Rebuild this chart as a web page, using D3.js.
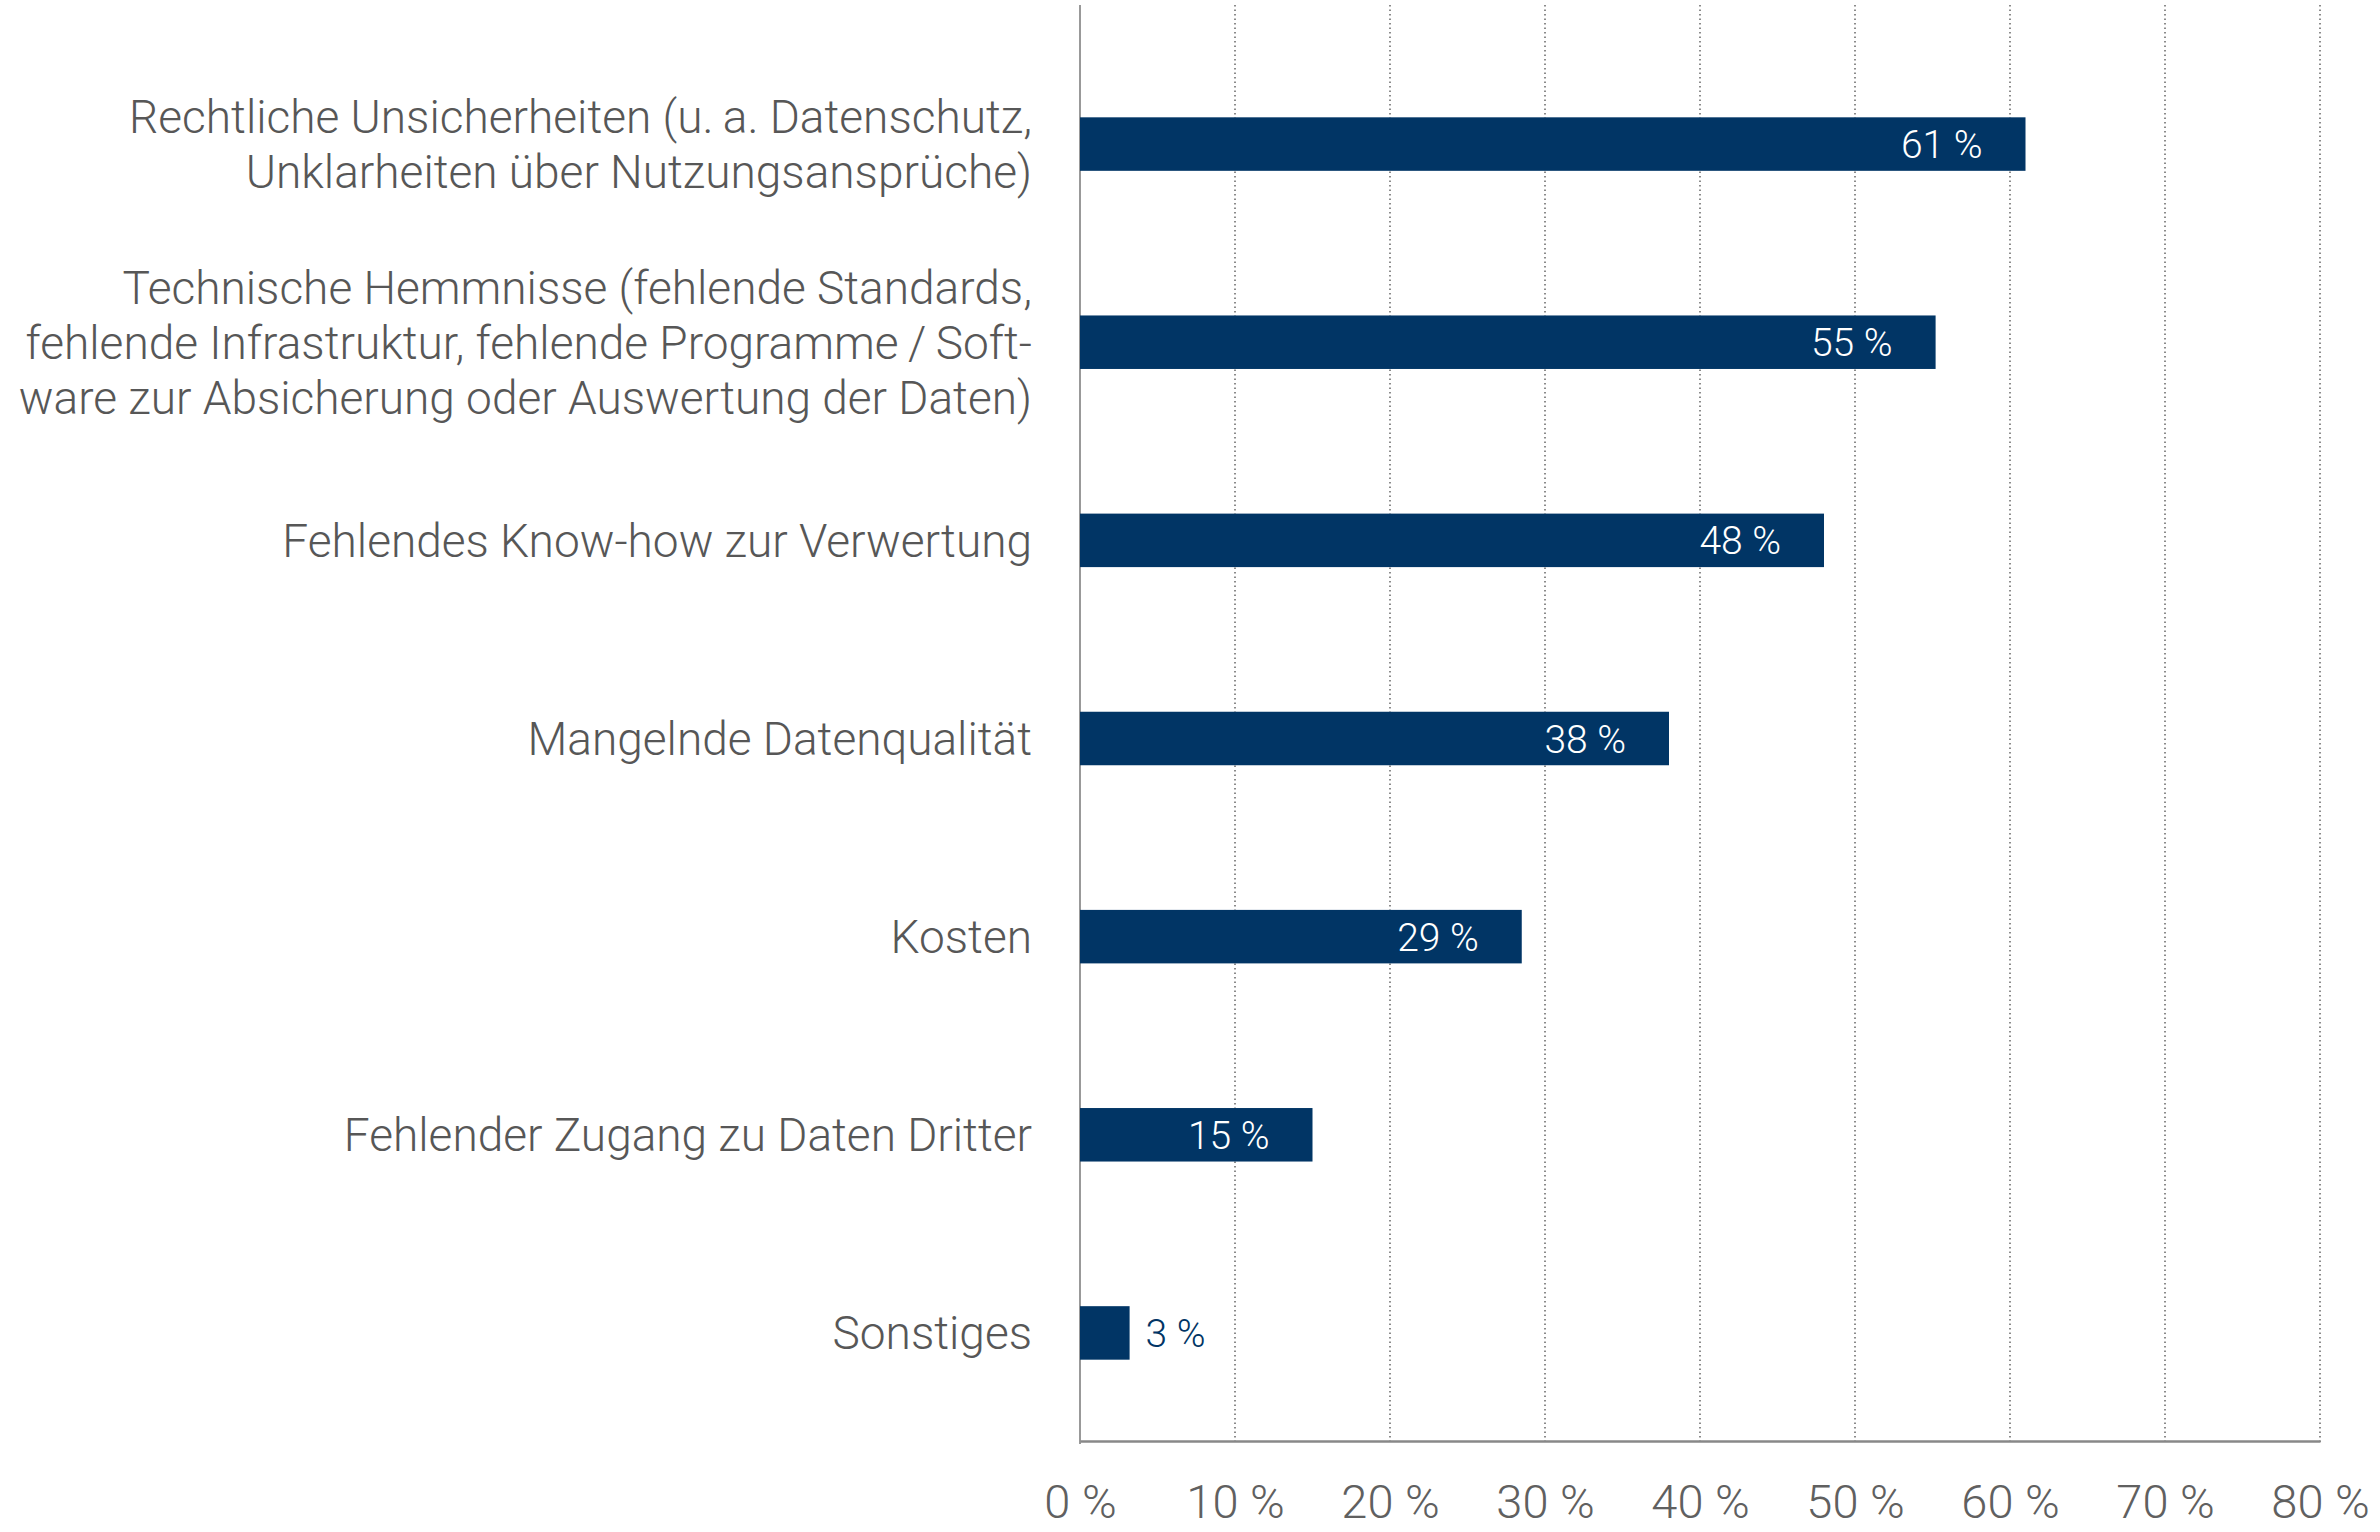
<!DOCTYPE html>
<html>
<head>
<meta charset="utf-8">
<script src="https://cdn.jsdelivr.net/npm/d3@7"></script>
<style>
  body { margin: 0; background: #fff; }
  text { font-family: Roboto, "Open Sans", sans-serif; font-weight: 300; }
</style>
</head>
<body>
<div id="chart"></div>
<script>
// categories, top to bottom (line breaks as in the original)
var categories = [
  "Rechtliche Unsicherheiten (u.\u2009a. Datenschutz,\nUnklarheiten über Nutzungsansprüche)",
  "Technische Hemmnisse (fehlende Standards,\nfehlende Infrastruktur, fehlende Programme\u2009/\u2009Soft-\nware zur Absicherung oder Auswertung der Daten)",
  "Fehlendes Know-how zur Verwertung",
  "Mangelnde Datenqualität",
  "Kosten",
  "Fehlender Zugang zu Daten Dritter",
  "Sonstiges"
];
var values = [61, 55.2, 48, 38, 28.5, 15, 3.2];
var valueLabels = ["61 %", "55 %", "48 %", "38 %", "29 %", "15 %", "3 %"];
var xTicks = [0, 10, 20, 30, 40, 50, 60, 70, 80];
var xTickLabels = ["0 %", "10 %", "20 %", "30 %", "40 %", "50 %", "60 %", "70 %", "80 %"];

var svg = d3.select("#chart")
  .append("svg")
  .attr("width", 2380)
  .attr("height", 1532);

var margin = {top: 5, right: 60, bottom: 88, left: 1080},
    width = 2380 - margin.left - margin.right,
    height = 1532 - margin.top - margin.bottom;

var x = d3.scaleLinear()
  .domain([0, 80])
  .range([0, width]);

var y = d3.scaleBand()
  .domain(categories)
  .range([40, 1427])
  .paddingInner(0.73)
  .paddingOuter(0.365);

var g = svg.append("g").attr("transform", "translate(" + margin.left + "," + margin.top + ")");

// dotted grid lines
g.append("g")
  .selectAll("line")
  .data(xTicks.slice(1))
  .enter().append("line")
    .attr("x1", function(d) { return x(d); })
    .attr("x2", function(d) { return x(d); })
    .attr("y1", 0)
    .attr("y2", height)
    .attr("stroke", "#666")
    .attr("stroke-width", 1.5)
    .attr("stroke-dasharray", "1.5,3");

// left axis line
g.append("line")
  .attr("x1", 0).attr("x2", 0)
  .attr("y1", 0).attr("y2", height)
  .attr("stroke", "#777")
  .attr("stroke-width", 1.5);

// bars
g.append("g")
  .selectAll("rect")
  .data(values)
  .enter().append("rect")
    .attr("x", 0)
    .attr("y", function(d, i) { return y(categories[i]); })
    .attr("width", function(d) { return x(d); })
    .attr("height", y.bandwidth())
    .attr("fill", "#013565");

// value labels
g.append("g")
  .selectAll("text")
  .data(values)
  .enter().append("text")
    .attr("x", function(d) { return d > 10 ? x(d) - 43 : x(d) + 16; })
    .attr("y", function(d, i) { return y(categories[i]) + y.bandwidth() / 2; })
    .attr("dy", "0.36em")
    .attr("text-anchor", function(d) { return d > 10 ? "end" : "start"; })
    .attr("fill", function(d) { return d > 10 ? "#fff" : "#013565"; })
    .style("font-size", "39px")
    .text(function(d, i) { return valueLabels[i]; });

// category labels
var lineHeight = 55;
var cat = g.append("g")
  .selectAll("text")
  .data(categories)
  .enter().append("text")
    .attr("text-anchor", "end")
    .attr("fill", "#575757")
    .style("font-size", "46px")
    .attr("transform", function(d) {
      return "translate(-48," + (y(d) + y.bandwidth() / 2) + ")";
    });

cat.each(function(d) {
  var lines = d.split("\n");
  var t = d3.select(this);
  lines.forEach(function(line, k) {
    t.append("tspan")
      .attr("x", 0)
      .attr("y", (k - (lines.length - 1) / 2) * lineHeight)
      .attr("dy", "0.36em")
      .text(line);
  });
});

// bottom axis
var xAxis = g.append("g")
  .attr("transform", "translate(0," + (height - 3) + ")")
  .call(d3.axisBottom(x)
    .tickValues(xTicks)
    .tickSize(0)
    .tickPadding(44)
    .tickFormat(function(d, i) { return xTickLabels[i]; }));

xAxis.select(".domain")
  .attr("stroke", "#888")
  .attr("stroke-width", 2.5);

xAxis.selectAll("text")
  .attr("fill", "#606060")
  .style("font-size", "47px")
  .style("font-family", "Roboto, sans-serif")
  .style("font-weight", 300);
</script>
</body>
</html>
